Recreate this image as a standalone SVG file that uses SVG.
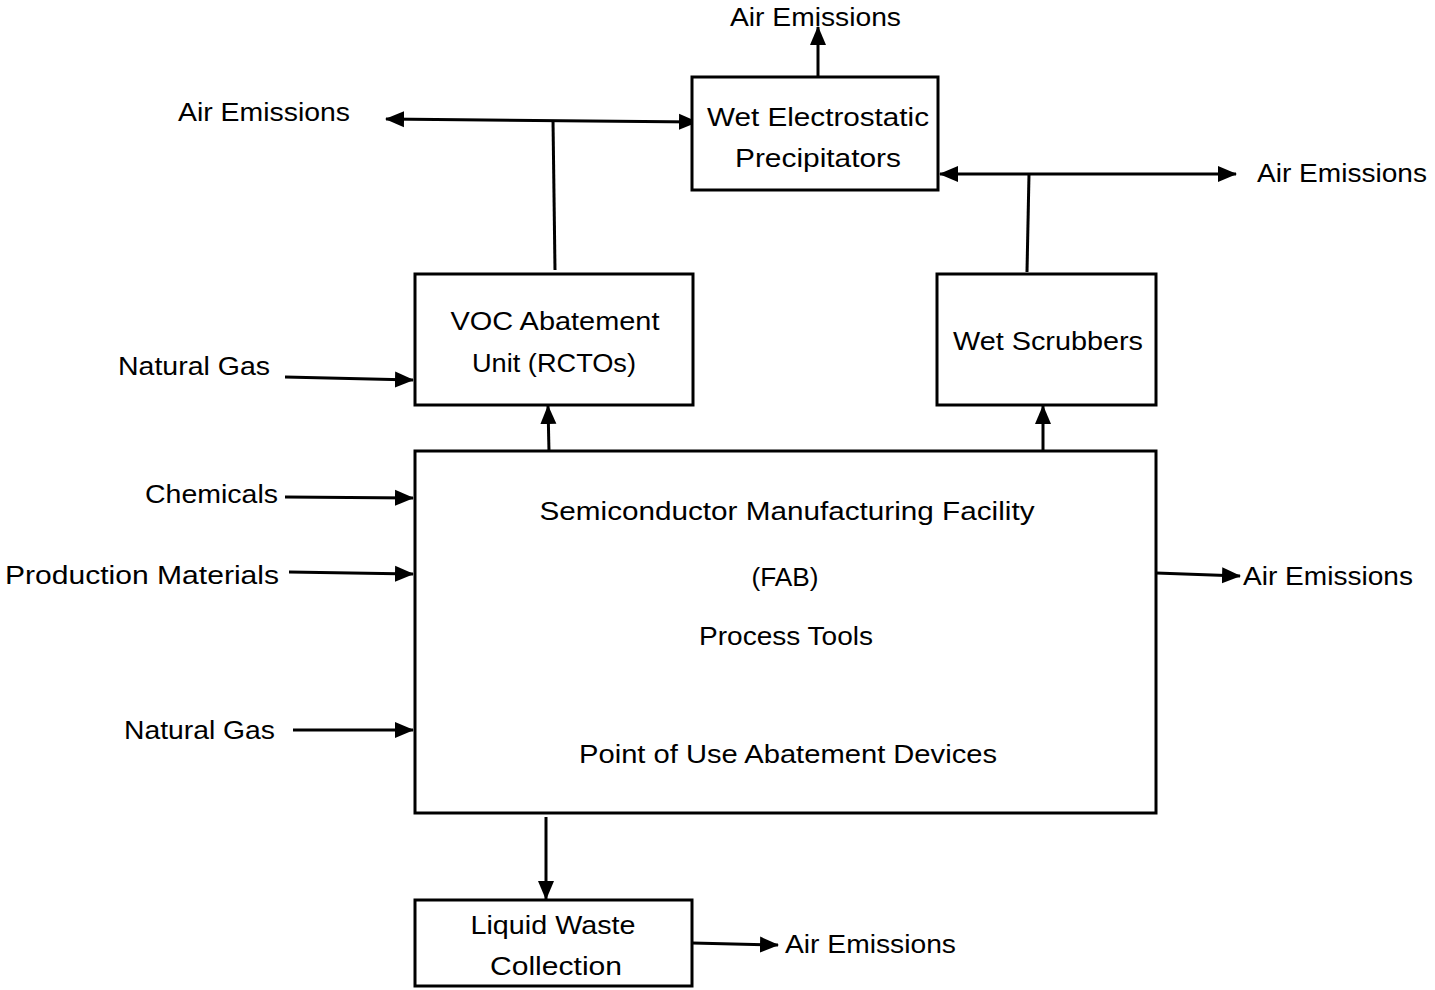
<svg xmlns="http://www.w3.org/2000/svg" width="1435" height="990" viewBox="0 0 1435 990">
<style>
.box{fill:#fff;stroke:#000;stroke-width:3}
.t{font-family:"Liberation Sans",Arial,sans-serif;font-size:26px;fill:#000}
.c{text-anchor:middle}
.e{text-anchor:end}
.ln{stroke:#000;stroke-width:3;fill:none}
</style>
<defs>
<marker id="ah" markerUnits="userSpaceOnUse" markerWidth="20" markerHeight="18" refX="18" refY="8" orient="auto-start-reverse" viewBox="0 0 20 16">
<path d="M0,0 L19,8 L0,16 Z" fill="#000"/>
</marker>
</defs>
<rect width="1435" height="990" fill="#fff"/>
<g id="connectors">
<line class="ln" x1="818" y1="77" x2="818" y2="27" marker-end="url(#ah)"/>
<line class="ln" x1="386" y1="119" x2="697" y2="122" marker-start="url(#ah)" marker-end="url(#ah)"/>
<line class="ln" x1="555" y1="270" x2="553" y2="120"/>
<line class="ln" x1="940" y1="174" x2="1236" y2="174" marker-start="url(#ah)" marker-end="url(#ah)"/>
<line class="ln" x1="1027" y1="272" x2="1029" y2="174"/>
<line class="ln" x1="285" y1="377" x2="413" y2="380" marker-end="url(#ah)"/>
<line class="ln" x1="549" y1="452" x2="548" y2="406" marker-end="url(#ah)"/>
<line class="ln" x1="1043" y1="452" x2="1043" y2="406" marker-end="url(#ah)"/>
<line class="ln" x1="285" y1="497" x2="413" y2="498" marker-end="url(#ah)"/>
<line class="ln" x1="289" y1="572" x2="413" y2="574" marker-end="url(#ah)"/>
<line class="ln" x1="293" y1="730" x2="413" y2="730" marker-end="url(#ah)"/>
<line class="ln" x1="1156" y1="573" x2="1240" y2="576" marker-end="url(#ah)"/>
<line class="ln" x1="546" y1="817" x2="546" y2="899" marker-end="url(#ah)"/>
<line class="ln" x1="692" y1="943" x2="778" y2="945" marker-end="url(#ah)"/>
</g>
<g id="wesp">
<rect class="box" x="692" y="77" width="246" height="113"/>
<text class="t c" x="818" y="126" textLength="222" lengthAdjust="spacingAndGlyphs">Wet Electrostatic</text>
<text class="t c" x="818" y="167" textLength="166" lengthAdjust="spacingAndGlyphs">Precipitators</text>
</g>
<g id="voc">
<rect class="box" x="415" y="274" width="278" height="131"/>
<text class="t c" x="555" y="330" textLength="209" lengthAdjust="spacingAndGlyphs">VOC Abatement</text>
<text class="t c" x="554" y="372" textLength="164" lengthAdjust="spacingAndGlyphs">Unit (RCTOs)</text>
</g>
<g id="scrubbers">
<rect class="box" x="937" y="274" width="219" height="131"/>
<text class="t c" x="1048" y="350" textLength="190" lengthAdjust="spacingAndGlyphs">Wet Scrubbers</text>
</g>
<g id="fab">
<rect class="box" x="415" y="451" width="741" height="362"/>
<text class="t c" x="787" y="520" textLength="495" lengthAdjust="spacingAndGlyphs">Semiconductor Manufacturing Facility</text>
<text class="t c" x="785" y="586" textLength="67" lengthAdjust="spacingAndGlyphs">(FAB)</text>
<text class="t c" x="786" y="645" textLength="174" lengthAdjust="spacingAndGlyphs">Process Tools</text>
<text class="t c" x="788" y="763" textLength="418" lengthAdjust="spacingAndGlyphs">Point of Use Abatement Devices</text>
</g>
<g id="liquid">
<rect class="box" x="415" y="900" width="277" height="86"/>
<text class="t c" x="553" y="934" textLength="165" lengthAdjust="spacingAndGlyphs">Liquid Waste</text>
<text class="t c" x="556" y="975" textLength="132" lengthAdjust="spacingAndGlyphs">Collection</text>
</g>
<g id="labels">
<text class="t" x="730" y="26" textLength="171" lengthAdjust="spacingAndGlyphs">Air Emissions</text>
<text class="t" x="178" y="121" textLength="172" lengthAdjust="spacingAndGlyphs">Air Emissions</text>
<text class="t" x="1257" y="182" textLength="170" lengthAdjust="spacingAndGlyphs">Air Emissions</text>
<text class="t" x="1243" y="585" textLength="170" lengthAdjust="spacingAndGlyphs">Air Emissions</text>
<text class="t" x="785" y="953" textLength="171" lengthAdjust="spacingAndGlyphs">Air Emissions</text>
<text class="t" x="118" y="375" textLength="152" lengthAdjust="spacingAndGlyphs">Natural Gas</text>
<text class="t" x="145" y="503" textLength="133" lengthAdjust="spacingAndGlyphs">Chemicals</text>
<text class="t" x="5" y="584" textLength="274" lengthAdjust="spacingAndGlyphs">Production Materials</text>
<text class="t" x="124" y="739" textLength="151" lengthAdjust="spacingAndGlyphs">Natural Gas</text>
</g>
</svg>
